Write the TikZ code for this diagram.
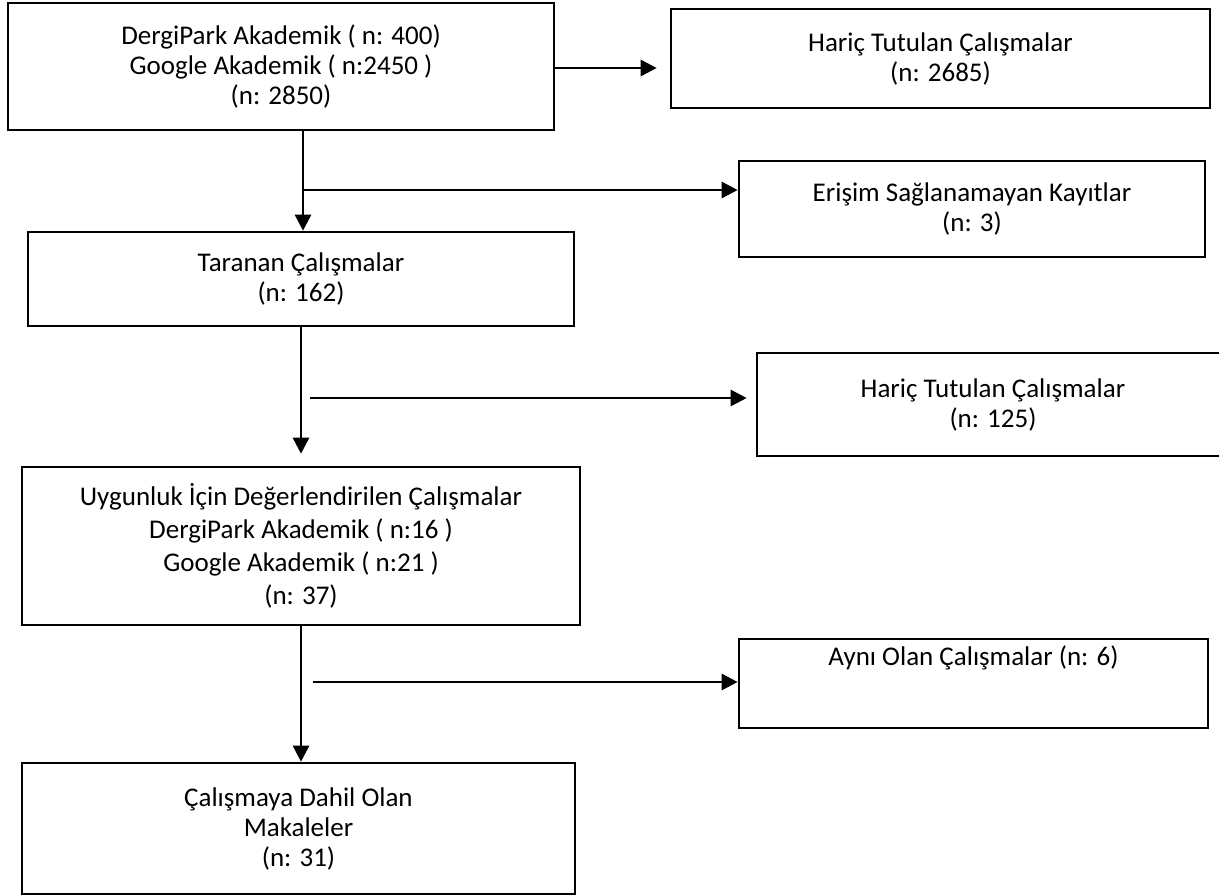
\documentclass[tikz,border=0pt]{standalone}
\usepackage{fontspec}
\setmainfont{Carlito}
\usepackage{tikz}
\usetikzlibrary{arrows.meta, positioning, calc}
\tikzset{
    block/.style={rectangle, draw, line width=2.6pt, fill=white, align=center, inner sep=0pt, font=\fontsize{27}{30}\selectfont},
    arrow/.style={-{Triangle[length=16pt, width=16pt]}, line width=2.6pt}
}

\begin{document}
\begin{tikzpicture}[x=1pt, y=-1pt]
            \useasboundingbox (0,0) rectangle (1219,895);
			\node (records) [block, minimum width=546pt, minimum height=127pt] at (281,66.5) {DergiPark Akademik ( n: 400)\\Google Akademik ( n:2450 )\\(n: 2850)};
			\node (excl1) [block, minimum width=539pt, minimum height=99pt] at (940.5,58.5) {Hariç Tutulan Çalışmalar\\(n: 2685)};
			\node (noaccess) [block, minimum width=466pt, minimum height=96pt] at (972,209) {Erişim Sağlanamayan Kayıtlar\\(n: 3)};
			\node (screened) [block, minimum width=546pt, minimum height=94pt] at (301,279) {Taranan Çalışmalar\\(n: 162)};
			\node (excl2) [block, minimum width=472pt, minimum height=103pt] at (993,404.5) {Hariç Tutulan Çalışmalar\\(n: 125)};
			\node (assessed) [block, minimum width=558pt, minimum height=158pt, font=\fontsize{27}{33}\selectfont] at (301,546) {Uygunluk İçin Değerlendirilen Çalışmalar\\DergiPark Akademik ( n:16 )\\Google Akademik ( n:21 )\\(n: 37)};
			\node (dup) [block, minimum width=469pt, minimum height=89pt, label={[anchor=north, inner sep=0pt, yshift=-8pt, font=\fontsize{27}{30}\selectfont]north:Aynı Olan Çalışmalar (n: 6)}] at (973.5,683.5) {};
			\node (included) [block, minimum width=553pt, minimum height=131pt] at (298.5,828.5) {Çalışmaya Dahil Olan\\Makaleler\\(n: 31)};

            % branch points
            \coordinate (split1) at (303,190);
            \coordinate (split2) at (310,398);
            \coordinate (split3) at (313,682);

			\draw [arrow, shorten >=13pt] (records.east |- 0,68) -- (excl1.west |- 0,68);
			\draw [arrow] (records.south -| split1) -- (split1 |- screened.north);
			\draw [arrow] (split1) -- (split1 -| noaccess.west);
			\draw [arrow, shorten >=12pt] (screened.south) -- (assessed.north);
			\draw [arrow, shorten >=9pt] (split2) -- (split2 -| excl2.west);
			\draw [arrow] (assessed.south) -- (assessed.south |- included.north);
			\draw [arrow] (split3) -- (split3 -| dup.west);
		\end{tikzpicture}
\end{document}
